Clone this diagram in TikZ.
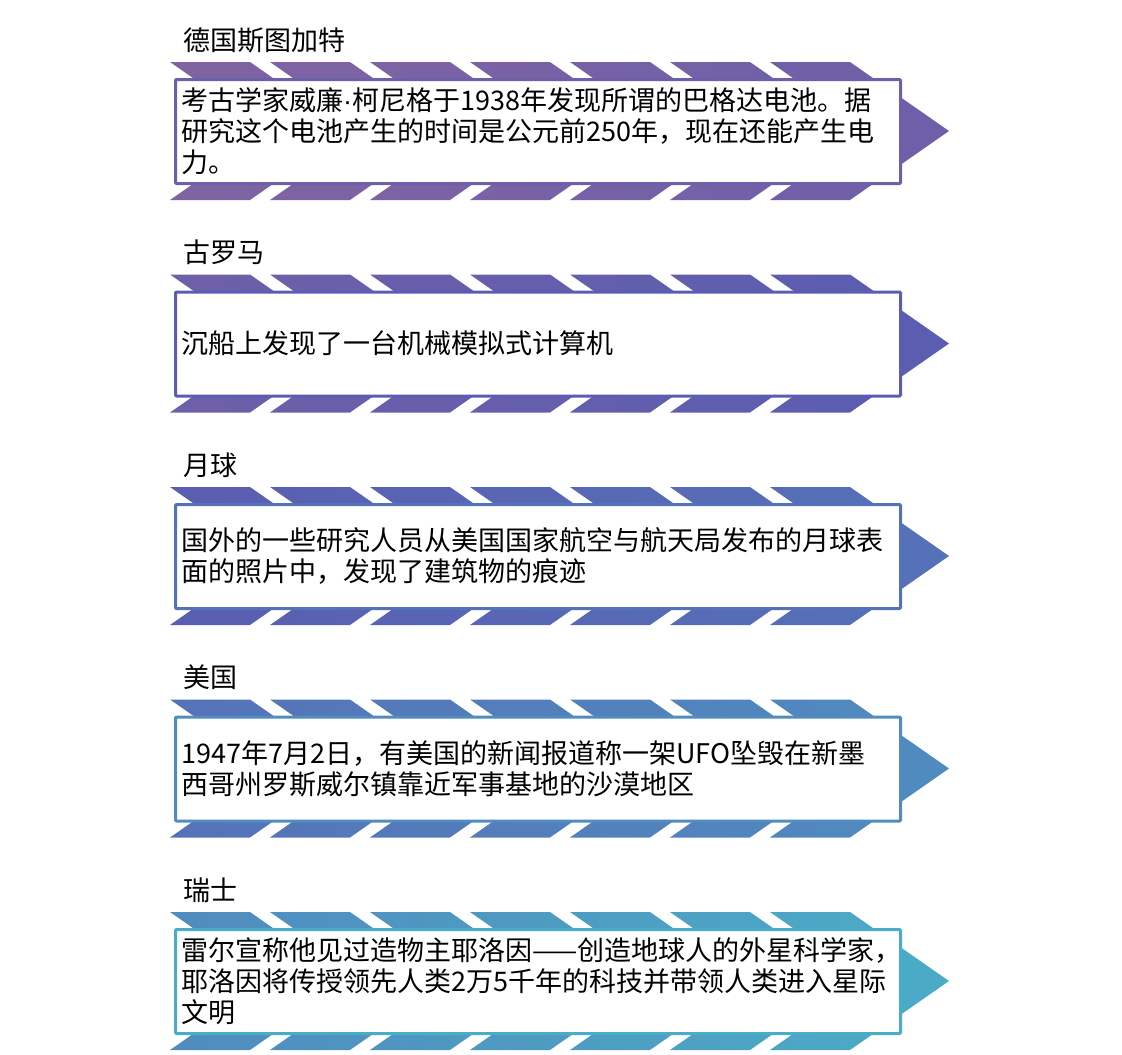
\documentclass[tikz,border=0pt]{standalone}
\usepackage{fontspec}
\setmainfont{Noto Sans CJK SC}
\newfontfamily\narrowfont{Liberation Sans}
\definecolor{c0}{RGB}{128,100,162}
\definecolor{c1}{RGB}{110,95,169}
\definecolor{c2}{RGB}{90,93,177}
\definecolor{c3}{RGB}{85,114,184}
\definecolor{c4}{RGB}{80,140,191}
\definecolor{c5}{RGB}{75,172,198}
\begin{document}
\begin{tikzpicture}[x=1pt,y=-1pt]
\useasboundingbox (0,0) rectangle (1122,1055);
\tikzset{
  card/.style={line width=3pt, fill=white, rounded corners=1pt},
  body/.style={anchor=west, align=left, inner sep=0pt, font=\fontsize{27}{31}\selectfont},
  head/.style={anchor=west, inner sep=0pt, font=\fontsize{27}{31}\selectfont},
}
\foreach \k/\ca/\cb in {0/c0/c1, 1/c1/c2, 2/c2/c3, 3/c3/c4, 4/c4/c5} {
  \pgfmathsetmacro\c{131+212.5*\k}
  \shade[left color=\ca, right color=\cb]
    foreach \j in {0,...,6} {
      ({170+100*\j},{\c-69}) -- ({250+100*\j},{\c-69}) -- ({349+100*\j},{\c})
      -- ({250+100*\j},{\c+69}) -- ({170+100*\j},{\c+69}) -- ({269+100*\j},{\c}) -- cycle
    };
  \draw[card, draw=\cb] (175.5,{\c-51.5}) rectangle (900.5,{\c+52.5});
}
\node[head] (h1) at (183,40) {德国斯图加特};
\node[head] (h2) at (183,252.5) {古罗马};
\node[head] (h3) at (183,465) {月球};
\node[head] (h4) at (183,677.5) {美国};
\node[head] (h5) at (183,890) {瑞士};
\node[body] (t1) at (181,131) {考古学家威廉{\narrowfont ·}柯尼格于1938年发现所谓的巴格达电池。据\\研究这个电池产生的时间是公元前250年，现在还能产生电\\力。};
\node[body] (t2) at (181,343.5) {沉船上发现了一台机械模拟式计算机};
\node[body] (t3) at (181,556) {国外的一些研究人员从美国国家航空与航天局发布的月球表\\面的照片中，发现了建筑物的痕迹};
\node[body] (t4) at (181,768.5) {1947年7月2日，有美国的新闻报道称一架UFO坠毁在新墨\\西哥州罗斯威尔镇靠近军事基地的沙漠地区};
\node[body] (t5) at (181,981) {雷尔宣称他见过造物主耶洛因——创造地球人的外星科学家，\\耶洛因将传授领先人类2万5千年的科技并带领人类进入星际\\文明};
\end{tikzpicture}
\end{document}
